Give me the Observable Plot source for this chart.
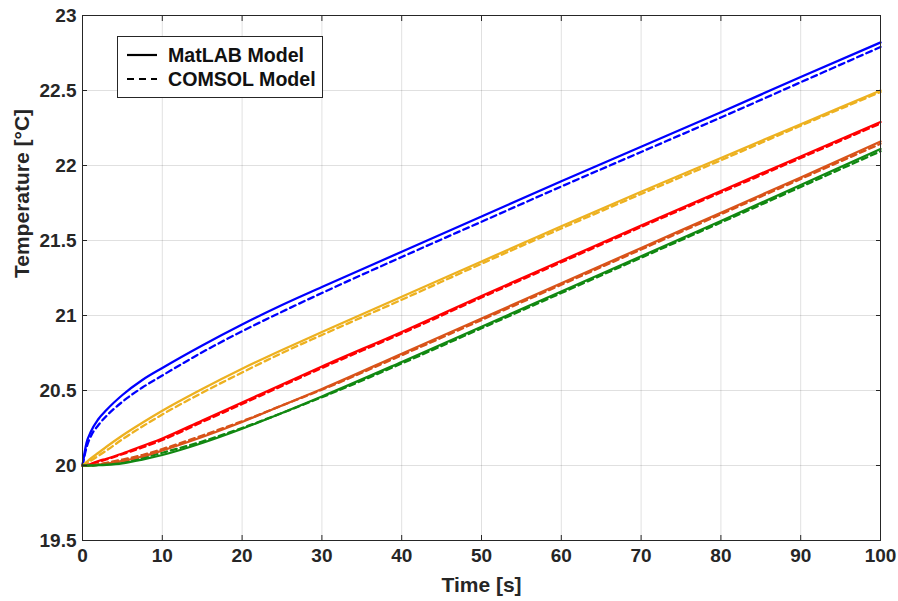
<!DOCTYPE html>
<html>
<head>
<meta charset="utf-8">
<script src="https://cdn.jsdelivr.net/npm/d3@7"></script>
<script src="https://cdn.jsdelivr.net/npm/@observablehq/plot@0.6"></script>
<style>
  html, body { margin: 0; padding: 0; background: #fff; }
  #wrap { position: relative; width: 898px; height: 601px; }
  #legend {
    position: absolute; left: 117px; top: 36px; width: 206px; height: 62px;
    border: 1px solid #262626; background: #fff; box-sizing: border-box;
    font-family: "Liberation Sans", Arial, sans-serif; font-weight: bold; font-size: 19.6px; color: #111;
  }
  #legend .row { position: absolute; left: 0; height: 24px; display: flex; align-items: center; }
  #legend svg { margin-left: 9px; margin-right: 11px; }
</style>
</head>
<body>
<div id="wrap">
  <div id="chart"></div>
  <div id="legend">
    <div class="row" style="top:6px"><svg width="30" height="4"><line x1="0" x2="30" y1="2" y2="2" stroke="#000" stroke-width="2.2"/></svg><span>MatLAB Model</span></div>
    <div class="row" style="top:30px"><svg width="30" height="4"><line x1="0" x2="30" y1="2" y2="2" stroke="#000" stroke-width="2.2" stroke-dasharray="7,5"/></svg><span>COMSOL Model</span></div>
  </div>
</div>
<script>
// time samples [s]
const time = [0, 0.5, 1, 2, 3, 5, 7.5, 10, 15, 20, 25, 30, 40, 50, 60, 70, 80, 90, 100];

// MatLAB model (solid)
const blueMatlab   = [20.00, 20.15, 20.22, 20.31, 20.37, 20.47, 20.57, 20.65, 20.80, 20.94, 21.07, 21.19, 21.425, 21.66, 21.895, 22.125, 22.355, 22.59, 22.82];
const yellowMatlab = [20.00, 20.022, 20.045, 20.085, 20.125, 20.20, 20.285, 20.365, 20.51, 20.645, 20.77, 20.89, 21.125, 21.36, 21.595, 21.825, 22.05, 22.275, 22.50];
const redMatlab    = [20.00, 20.003, 20.01, 20.03, 20.045, 20.08, 20.13, 20.18, 20.30, 20.42, 20.54, 20.66, 20.89, 21.13, 21.365, 21.60, 21.83, 22.06, 22.29];
const orangeMatlab = [20.00, 20.00, 20.001, 20.005, 20.012, 20.03, 20.06, 20.10, 20.19, 20.29, 20.40, 20.51, 20.745, 20.98, 21.215, 21.45, 21.685, 21.92, 22.16];
const greenMatlab  = [20.00, 20.00, 20.00, 20.002, 20.005, 20.015, 20.04, 20.07, 20.15, 20.245, 20.35, 20.46, 20.69, 20.925, 21.16, 21.395, 21.63, 21.87, 22.11];

// COMSOL model (dashed)
const blueComsol   = [20.00, 20.12, 20.19, 20.27, 20.33, 20.425, 20.52, 20.60, 20.755, 20.895, 21.025, 21.15, 21.39, 21.625, 21.86, 22.09, 22.32, 22.555, 22.79];
const yellowComsol = [20.00, 20.015, 20.03, 20.065, 20.10, 20.175, 20.26, 20.34, 20.485, 20.62, 20.75, 20.87, 21.105, 21.345, 21.58, 21.81, 22.035, 22.265, 22.49];
const redComsol    = [20.00, 20.002, 20.008, 20.025, 20.04, 20.075, 20.12, 20.17, 20.29, 20.41, 20.53, 20.65, 20.88, 21.12, 21.355, 21.59, 21.82, 22.05, 22.28];
const orangeComsol = [20.00, 20.00, 20.002, 20.008, 20.018, 20.04, 20.07, 20.11, 20.20, 20.295, 20.40, 20.505, 20.735, 20.97, 21.205, 21.44, 21.675, 21.91, 22.145];
const greenComsol  = [20.00, 20.00, 20.001, 20.005, 20.01, 20.025, 20.05, 20.085, 20.16, 20.25, 20.35, 20.455, 20.68, 20.915, 21.15, 21.385, 21.62, 21.857, 22.095];

const seriesNames  = ["Series 1", "Series 2", "Series 3", "Series 4", "Series 5"];
const seriesColors = ["#0000ff", "#edb120", "#ff0000", "#d95319", "#118811"];

const xTicks = [0, 10, 20, 30, 40, 50, 60, 70, 80, 90, 100];
const yTicks = [19.5, 20, 20.5, 21, 21.5, 22, 22.5, 23];

const matlab = [blueMatlab, yellowMatlab, redMatlab, orangeMatlab, greenMatlab];
const comsol = [blueComsol, yellowComsol, redComsol, orangeComsol, greenComsol];

function toRows(sets) {
  const rows = [];
  sets.forEach((vals, i) => vals.forEach((v, j) => rows.push({t: time[j], T: v, s: seriesNames[i]})));
  return rows;
}
const solidRows = toRows(matlab);
const dashRows = toRows(comsol);

const axisColor = "#262626";
const font = "'Liberation Sans', Arial, Helvetica, sans-serif";

const chart = Plot.plot({
  width: 898,
  height: 601,
  marginLeft: 82,
  marginRight: 18,
  marginTop: 15,
  marginBottom: 61,
  style: {fontFamily: font, fontSize: "19px", fontWeight: "bold", color: axisColor, background: "#fff"},
  x: {domain: [0, 100]},
  y: {domain: [19.5, 23]},
  color: {type: "ordinal", domain: seriesNames, range: seriesColors},
  marks: [
    Plot.gridX(xTicks, {stroke: "#000", strokeOpacity: 0.12}),
    Plot.gridY(yTicks, {stroke: "#000", strokeOpacity: 0.12}),
    Plot.line(dashRows, {x: "t", y: "T", z: "s", stroke: "s", strokeWidth: 2.3, strokeDasharray: "6,4", curve: "monotone-x"}),
    Plot.line(solidRows, {x: "t", y: "T", z: "s", stroke: "s", strokeWidth: 2.3, curve: "monotone-x"}),
    Plot.frame({stroke: axisColor, strokeWidth: 1}),
    // inward ticks on all four sides
    Plot.axisX(xTicks, {anchor: "bottom", tickSize: 5, dy: -5, tickFormat: () => "", label: null, stroke: axisColor}),
    Plot.axisX(xTicks, {anchor: "top", tickSize: 5, dy: 5, tickFormat: () => "", label: null, stroke: axisColor}),
    Plot.axisY(yTicks, {anchor: "left", tickSize: 5, dx: 5, tickFormat: () => "", label: null, stroke: axisColor}),
    Plot.axisY(yTicks, {anchor: "right", tickSize: 5, dx: -5, tickFormat: () => "", label: null, stroke: axisColor}),
    // tick labels
    Plot.axisX(xTicks, {anchor: "bottom", tickSize: 0, tickPadding: 8, tickFormat: d => String(d), label: null, fontSize: 19, fontWeight: "bold", fill: axisColor}),
    Plot.axisY(yTicks, {anchor: "left", tickSize: 0, tickPadding: 6, tickFormat: d => String(d), label: null, fontSize: 19, fontWeight: "bold", fill: axisColor}),
    // axis titles
    Plot.text(["Time [s]"], {frameAnchor: "bottom", dy: 45, text: d => d, fontSize: 21, fontWeight: "bold", fill: axisColor, lineAnchor: "middle"}),
    Plot.text(["Temperature [°C]"], {frameAnchor: "left", dx: -60, rotate: -90, text: d => d, fontSize: 21, fontWeight: "bold", fill: axisColor, lineAnchor: "middle"})
  ]
});
document.getElementById("chart").append(chart);
</script>
</body>
</html>
